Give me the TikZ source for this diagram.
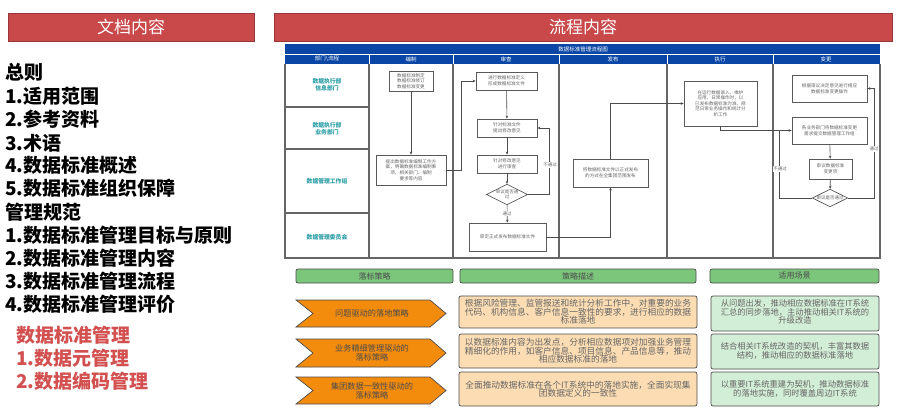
\documentclass[tikz,border=0pt]{standalone}
\usepackage{fontspec}
\setmainfont{Noto Sans CJK SC}
\usetikzlibrary{arrows.meta,shapes.geometric,calc}
\definecolor{hdrred}{HTML}{C9484A}
\definecolor{lanebl}{HTML}{0A46A5}
\definecolor{teal2}{HTML}{2A9FA6}
\definecolor{redtxt}{HTML}{D2504F}
\definecolor{grnhdr}{HTML}{7CC67C}
\definecolor{orng}{HTML}{F38B0D}
\definecolor{beige}{HTML}{FCDDB3}
\definecolor{ltgrn}{HTML}{D3EED6}
\tikzset{
  redbar/.style={fill=hdrred, draw=hdrred!75!black, line width=0.8pt},
  bartxt/.style={text=white, font=\fontsize{17}{17}\selectfont},
  doctxt/.style={anchor=base west, inner sep=0pt, font=\fontsize{19}{19}\selectfont\bfseries},
  fb/.style={draw=black!65, line width=0.7pt, fill=white, inner sep=1pt, align=center,
    font=\fontsize{4.6}{5.6}\selectfont, text=black!60},
  fd/.style={diamond, draw=black!65, line width=0.7pt, fill=white, inner sep=0pt, align=center,
    shape aspect=2, font=\fontsize{4.5}{5.3}\selectfont, text=black!60},
  arr/.style={draw=black!70, line width=0.6pt, -{Stealth[length=3pt,width=2.6pt]}},
  ln/.style={draw=black!70, line width=0.6pt},
  lbl/.style={fill=white, inner sep=0.5pt, font=\fontsize{4.5}{5}\selectfont, text=black!60},
  lanetxt/.style={text=white, font=\fontsize{5.5}{6}\selectfont},
  rowtxt/.style={text=teal2, align=center, font=\fontsize{5.8}{7}\selectfont\bfseries},
  sep/.style={draw=black!60, line width=1.1pt},
  ghdr/.style={draw=black!70, fill=grnhdr, rounded corners=2pt, line width=0.7pt},
  chev/.style={draw=black!70, fill=orng, line width=0.7pt},
  dbox/.style={draw=black!70, fill=beige, rounded corners=2pt, line width=0.7pt},
  sbox/.style={draw=black!70, fill=ltgrn, rounded corners=2pt, line width=0.7pt},
  smtxt/.style={align=center, text=black!60, font=\fontsize{8}{8.4}\selectfont},
  hdtxt/.style={smtxt, text=black!70, font=\fontsize{8}{8}\selectfont},
  chtxt/.style={smtxt, text=black!70, font=\fontsize{8.2}{9}\selectfont},
  desctxt/.style={smtxt, font=\fontsize{8.7}{8.4}\selectfont},
  scentxt/.style={smtxt, font=\fontsize{8.3}{8.2}\selectfont},
}
\begin{document}
\begin{tikzpicture}[x=1pt,y=-1pt]
\useasboundingbox (0,0) rectangle (900,409);
\fill[white] (0,0) rectangle (900,409);

% ---------- red header bars
\draw[redbar] (8,13) rectangle (254,41);
\node[bartxt] (t1) at (131,27) {文档内容};
\draw[redbar] (274,13) rectangle (892,41);
\node[bartxt] (t2) at (583,27) {流程内容};

% ---------- left document list
\foreach \y/\t [count=\i] in {80/总则, 104/1.适用范围, 127/2.参考资料, 150/3.术语, 173/4.数据标准概述,
  196/5.数据标准组织保障, 219/管理规范, 242/1.数据标准管理目标与原则, 265/2.数据标准管理内容,
  288/3.数据标准管理流程, 311/4.数据标准管理评价}
  \node[doctxt] (l\i) at (5,\y) {\t};
\foreach \y/\t [count=\i] in {342/数据标准管理, 365/1.数据元管理, 388/2.数据编码管理}
  \node[doctxt, text=redtxt] (r\i) at (16,\y) {\t};

% ---------- flowchart frame
\fill[lanebl] (285,44) rectangle (880,64);
\node[lanetxt] (ftitle) at (583,49) {数据标准管理流程图};
\draw[white, line width=0.5pt] (285,54.5) -- (880,54.5);
\foreach \x in {369,453,559,667,773}
  \draw[white, line width=0.6pt] (\x,54.5) -- (\x,64);
\foreach \x in {369,453,559,667,773}
  \draw[sep] (\x,64) -- (\x,258);
\draw[sep] (285,64) -- (285,258) -- (880,258) -- (880,64);
\draw[sep] (285,107) -- (369,107);
\draw[sep] (285,149) -- (369,149);
\draw[sep] (285,213) -- (369,213);

\node[lanetxt] (h0) at (327,59) {部门\textbackslash 流程};
\node[lanetxt] (h1) at (411,59) {编制};
\node[lanetxt] (h2) at (506,59) {审查};
\node[lanetxt] (h3) at (613,59) {发布};
\node[lanetxt] (h4) at (720,59) {执行};
\node[lanetxt] (h5) at (826,59) {变更};

\node[rowtxt] (rw1) at (327,85) {数据执行部\\信息部门};
\node[rowtxt] (rw2) at (327,129) {数据执行部\\业务部门};
\node[rowtxt] (rw3) at (327,181) {数据管理工作组};
\node[rowtxt] (rw4) at (327,237) {数据管理委员会};

% ---------- flowchart boxes
\node[fb, minimum width=44pt, minimum height=20pt] (b1) at (411,81)
  {数据标准制定\\数据标准修订\\数据标准变更};
\node[fb, minimum width=70pt, minimum height=30pt] (b2) at (411,170)
  {提出数据标准编制工作方\\案，明确数据标准编制事\\项、相关部门、编制\\要求等内容};
\node[fb, minimum width=61pt, minimum height=18pt] (b3) at (506.5,81)
  {进行数据标准定义\\形成数据标准文件};
\node[fb, minimum width=60pt, minimum height=18pt] (b4) at (507,128)
  {针对标准文件\\提出修改意见};
\node[fb, minimum width=60pt, minimum height=18pt] (b5) at (507,164)
  {针对修改意见\\进行审查};
\node[fd] (d1) at (507,194.5) {审议是否通\\过};
\node[fb, minimum width=77pt, minimum height=28pt] (b6) at (507.5,237)
  {审定正式发布数据标准文件};
\node[fb, minimum width=75pt, minimum height=28pt] (b7) at (610.5,173)
  {将数据标准文件以正式发布\\的方式在全集团范围发布};
\node[fb, minimum width=73pt, minimum height=45pt] (b8) at (720.5,103.5)
  {在运行数据录入、维护\\应用、日常操作时，以\\已发布数据标准为准，规\\范日常业务操作和统计分\\析工作};
\node[fb, minimum width=75pt, minimum height=27pt] (b9) at (829.5,88.5)
  {根据审议决定意见进行相应\\数据标准变更操作};
\node[fb, minimum width=75pt, minimum height=27pt] (b10) at (829.5,130.5)
  {各业务部门将数据标准变更\\需求提交数据管理工作组};
\node[fb, minimum width=43pt, minimum height=20pt] (b11) at (830.5,169)
  {审议数据标准\\变更项};
\node[fd] (d2) at (830,198) {审议是否通过};

% ---------- flowchart connectors
\draw[arr] (b1) -- (b2);
\draw[arr] (b2.east) -- ++(15,0) |- (b3.west);
\draw[arr] (b3) -- (b4);
\draw[arr] (b4) -- (b5);
\draw[arr] (b5) -- (d1);
\draw[arr] (d1) -- node[lbl] (p1) {通过} (b6);
\coordinate (c1) at (549,194.5);
\draw[arr] (d1.east) -- (c1) |- (b4.east);
\node[lbl] (np1) at (550,165) {不通过};
\draw[arr] (b6.east) -| (b7.south);
\draw[arr] (b7.north) |- (b8.west);
\draw[arr] (b8.south) |- (b10.west);
\draw[arr] (b10) -- (b11);
\draw[arr] (b11) -- (d2);
\coordinate (j1) at (779,130.5);
\draw[ln] (d2.west) -| (j1);
\node[lbl] (np2) at (780,169) {不通过};
\coordinate (c2) at (874,198);
\draw[arr] (d2.east) -- (c2) |- (b9.east);
\node[lbl] (p2) at (874,149) {通过};

% ---------- bottom strategy table
\draw[ghdr] (296,269) rectangle (453,283);
\node[hdtxt] (g1) at (374.5,276) {落标策略};
\draw[ghdr] (460,269) rectangle (696,283);
\node[hdtxt] (g2) at (578,276) {策略描述};
\draw[ghdr] (710,269) rectangle (879,283);
\node[hdtxt] (g3) at (794.5,276) {适用场景};

\foreach \t/\m [count=\i] in {300/327, 339/367, 377/404}{
  \draw[chev] (296,\t) -- (430,\t) -- (446,{(\t+\m)/2}) -- (430,\m) -- (296,\m) -- (313,{(\t+\m)/2}) -- cycle;
}
\node[chtxt] (s1) at (372,313.5) {问题驱动的落地策略};
\node[chtxt] (s2) at (372,353) {业务精细管理驱动的\\落标策略};
\node[chtxt] (s3) at (372,390.5) {集团数据一致性驱动的\\落标策略};

\draw[dbox] (459,296) rectangle (697,328);
\node[desctxt] (e1) at (578,312)
  {根据风险管理、监管报送和统计分析工作中，对重要的业务\\代码、机构信息、客户信息一致性的要求，进行相应的数据\\标准落地};
\draw[dbox] (459,334) rectangle (697,368);
\node[desctxt] (e2) at (578,351)
  {以数据标准内容为出发点，分析相应数据项对加强业务管理\\精细化的作用，如客户信息、项目信息、产品信息等，推动\\相应数据标准的落地};
\draw[dbox] (459,372) rectangle (697,406);
\node[desctxt] (e3) at (578,389)
  {全面推动数据标准在各个IT系统中的落地实施，全面实现集\\团数据定义的一致性};

\draw[sbox] (711,296) rectangle (879,331);
\node[scentxt] (f1) at (795,312)
  {从问题出发，推动相应数据标准在IT系统\\汇总的同步落地，主动推动相关IT系统的\\升级改造};
\draw[sbox] (711,334) rectangle (879,369);
\node[scentxt] (f2) at (795,351)
  {结合相关IT系统改造的契机，丰富其数据\\结构，推动相应的数据标准落地};
\draw[sbox] (711,372) rectangle (879,406);
\node[scentxt] (f3) at (795,389)
  {以重要IT系统重建为契机，推动数据标准\\的落地实施，同时覆盖周边IT系统};
\end{tikzpicture}
\end{document}
